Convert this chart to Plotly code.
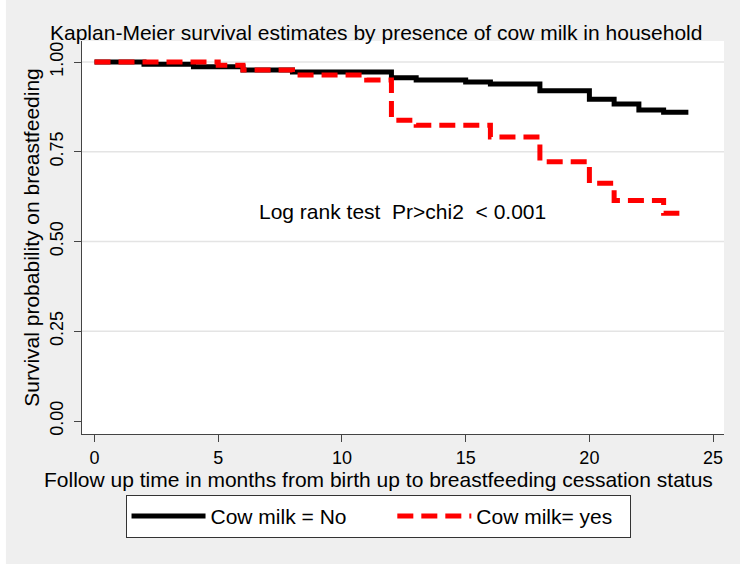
import plotly.graph_objects as go

# ---- data ----
no_time = [0, 2, 4, 6, 8, 12, 13, 15, 16, 18, 20, 21, 22, 23, 24]
no_surv = [1.0, 0.994, 0.987, 0.978, 0.972, 0.956, 0.950, 0.944, 0.939, 0.920,
           0.896, 0.883, 0.866, 0.860, 0.860]

yes_time = [0, 5, 6, 8, 11, 12, 13, 16, 18, 20, 21, 23, 23.7]
yes_surv = [1.0, 0.991, 0.978, 0.964, 0.950, 0.838, 0.824, 0.791, 0.722,
            0.662, 0.614, 0.579, 0.579]

x_ticks = [0, 5, 10, 15, 20, 25]
y_ticks = [0.00, 0.25, 0.50, 0.75, 1.00]
y_tick_text = ["0.00", "0.25", "0.50", "0.75", "1.00"]
grid_vals = [0.25, 0.50, 0.75, 1.00]

series_names = ["Cow milk = No", "Cow milk= yes"]
title_text = "Kaplan-Meier survival estimates by presence of cow milk in household"
x_title = "Follow up time in months from birth up to breastfeeding cessation status"
y_title = "Survival probability on breastfeeding"
note_text = "Log rank test\u00a0\u00a0Pr>chi2\u00a0\u00a0< 0.001"
note_pos = (12.44, 0.584)

FONT = "Arial, Liberation Sans, sans-serif"
AXC = "#444444"
TXT = 21
PAD1 = "\u00a0" * 7   # spacing between the two legend entries
PAD2 = "\u00a0" * 2   # right padding inside legend box

fig = go.Figure()
fig.add_trace(go.Scatter(x=no_time, y=no_surv, mode="lines", line_shape="hv",
                         name=series_names[0] + PAD1,
                         line=dict(color="black", width=5)))
fig.add_trace(go.Scatter(x=yes_time, y=yes_surv, mode="lines", line_shape="hv",
                         name=series_names[1] + PAD2,
                         line=dict(color="#ff0000", width=5, dash="16px,8px")))

shapes = []
for g in grid_vals:
    shapes.append(dict(type="line", xref="paper", x0=0, x1=1, yref="y", y0=g, y1=g,
                       line=dict(color="#e4e4e4", width=1.3), layer="below"))
# white outer edges of the exported image
shapes.append(dict(type="rect", xref="paper", yref="paper", x0=1.025, x1=1.2,
                   y0=-0.5, y1=1.2, fillcolor="white", line=dict(width=0), layer="below"))
shapes.append(dict(type="rect", xref="paper", yref="paper", x0=-0.3, x1=1.2,
                   y0=-0.5, y1=-0.331, fillcolor="white", line=dict(width=0), layer="below"))
shapes.append(dict(type="rect", xref="paper", yref="paper", x0=-0.3, x1=-0.1185,
                   y0=-0.5, y1=1.2, fillcolor="white", line=dict(width=0), layer="below"))

fig.update_layout(
    width=750, height=572,
    margin=dict(l=82, r=26, t=41, b=138, autoexpand=False),
    paper_bgcolor="#efefef", plot_bgcolor="white",
    font=dict(family=FONT, color="black", size=18),
    title=dict(text=title_text, x=50/750, xref="container", xanchor="left",
               y=1-33/572, yref="container", yanchor="middle",
               font=dict(size=TXT, family=FONT, color="black")),
    showlegend=True,
    legend=dict(orientation="h", x=0.4611, xanchor="center", y=-0.155, yanchor="top",
                bgcolor="white", bordercolor="#333333", borderwidth=1,
                font=dict(size=TXT, family=FONT), itemwidth=74,
                tracegroupgap=0),
    shapes=shapes,
    annotations=[
        dict(x=note_pos[0], y=note_pos[1], xref="x", yref="y",
             text=note_text, showarrow=False,
             font=dict(size=TXT, family=FONT, color="black")),
        dict(x=0.4611, y=-0.117, xref="paper", yref="paper", xanchor="center",
             yanchor="middle", text=x_title, showarrow=False,
             font=dict(size=TXT, family=FONT, color="black")),
    ],
)

fig.update_xaxes(range=[-0.505, 25.44], tickvals=x_ticks, showgrid=False, zeroline=False,
                 showline=True, linecolor=AXC, linewidth=1.3, ticks="outside",
                 ticklen=7, tickwidth=1.3, tickcolor=AXC, tickfont=dict(size=18),
                 automargin=False)
fig.update_yaxes(range=[-0.0362, 1.0585], tickvals=y_ticks, ticktext=y_tick_text,
                 tickangle=-90, showgrid=False, zeroline=False,
                 showline=True, linecolor=AXC, linewidth=1.3, ticks="outside",
                 ticklen=7, tickwidth=1.3, tickcolor=AXC, tickfont=dict(size=18),
                 automargin=False, ticklabelstandoff=4,
                 title=dict(text=y_title, font=dict(size=TXT), standoff=1))

fig.write_html("out.html", config={"displayModeBar": False},
               post_script="document.body.style.margin='0';")
